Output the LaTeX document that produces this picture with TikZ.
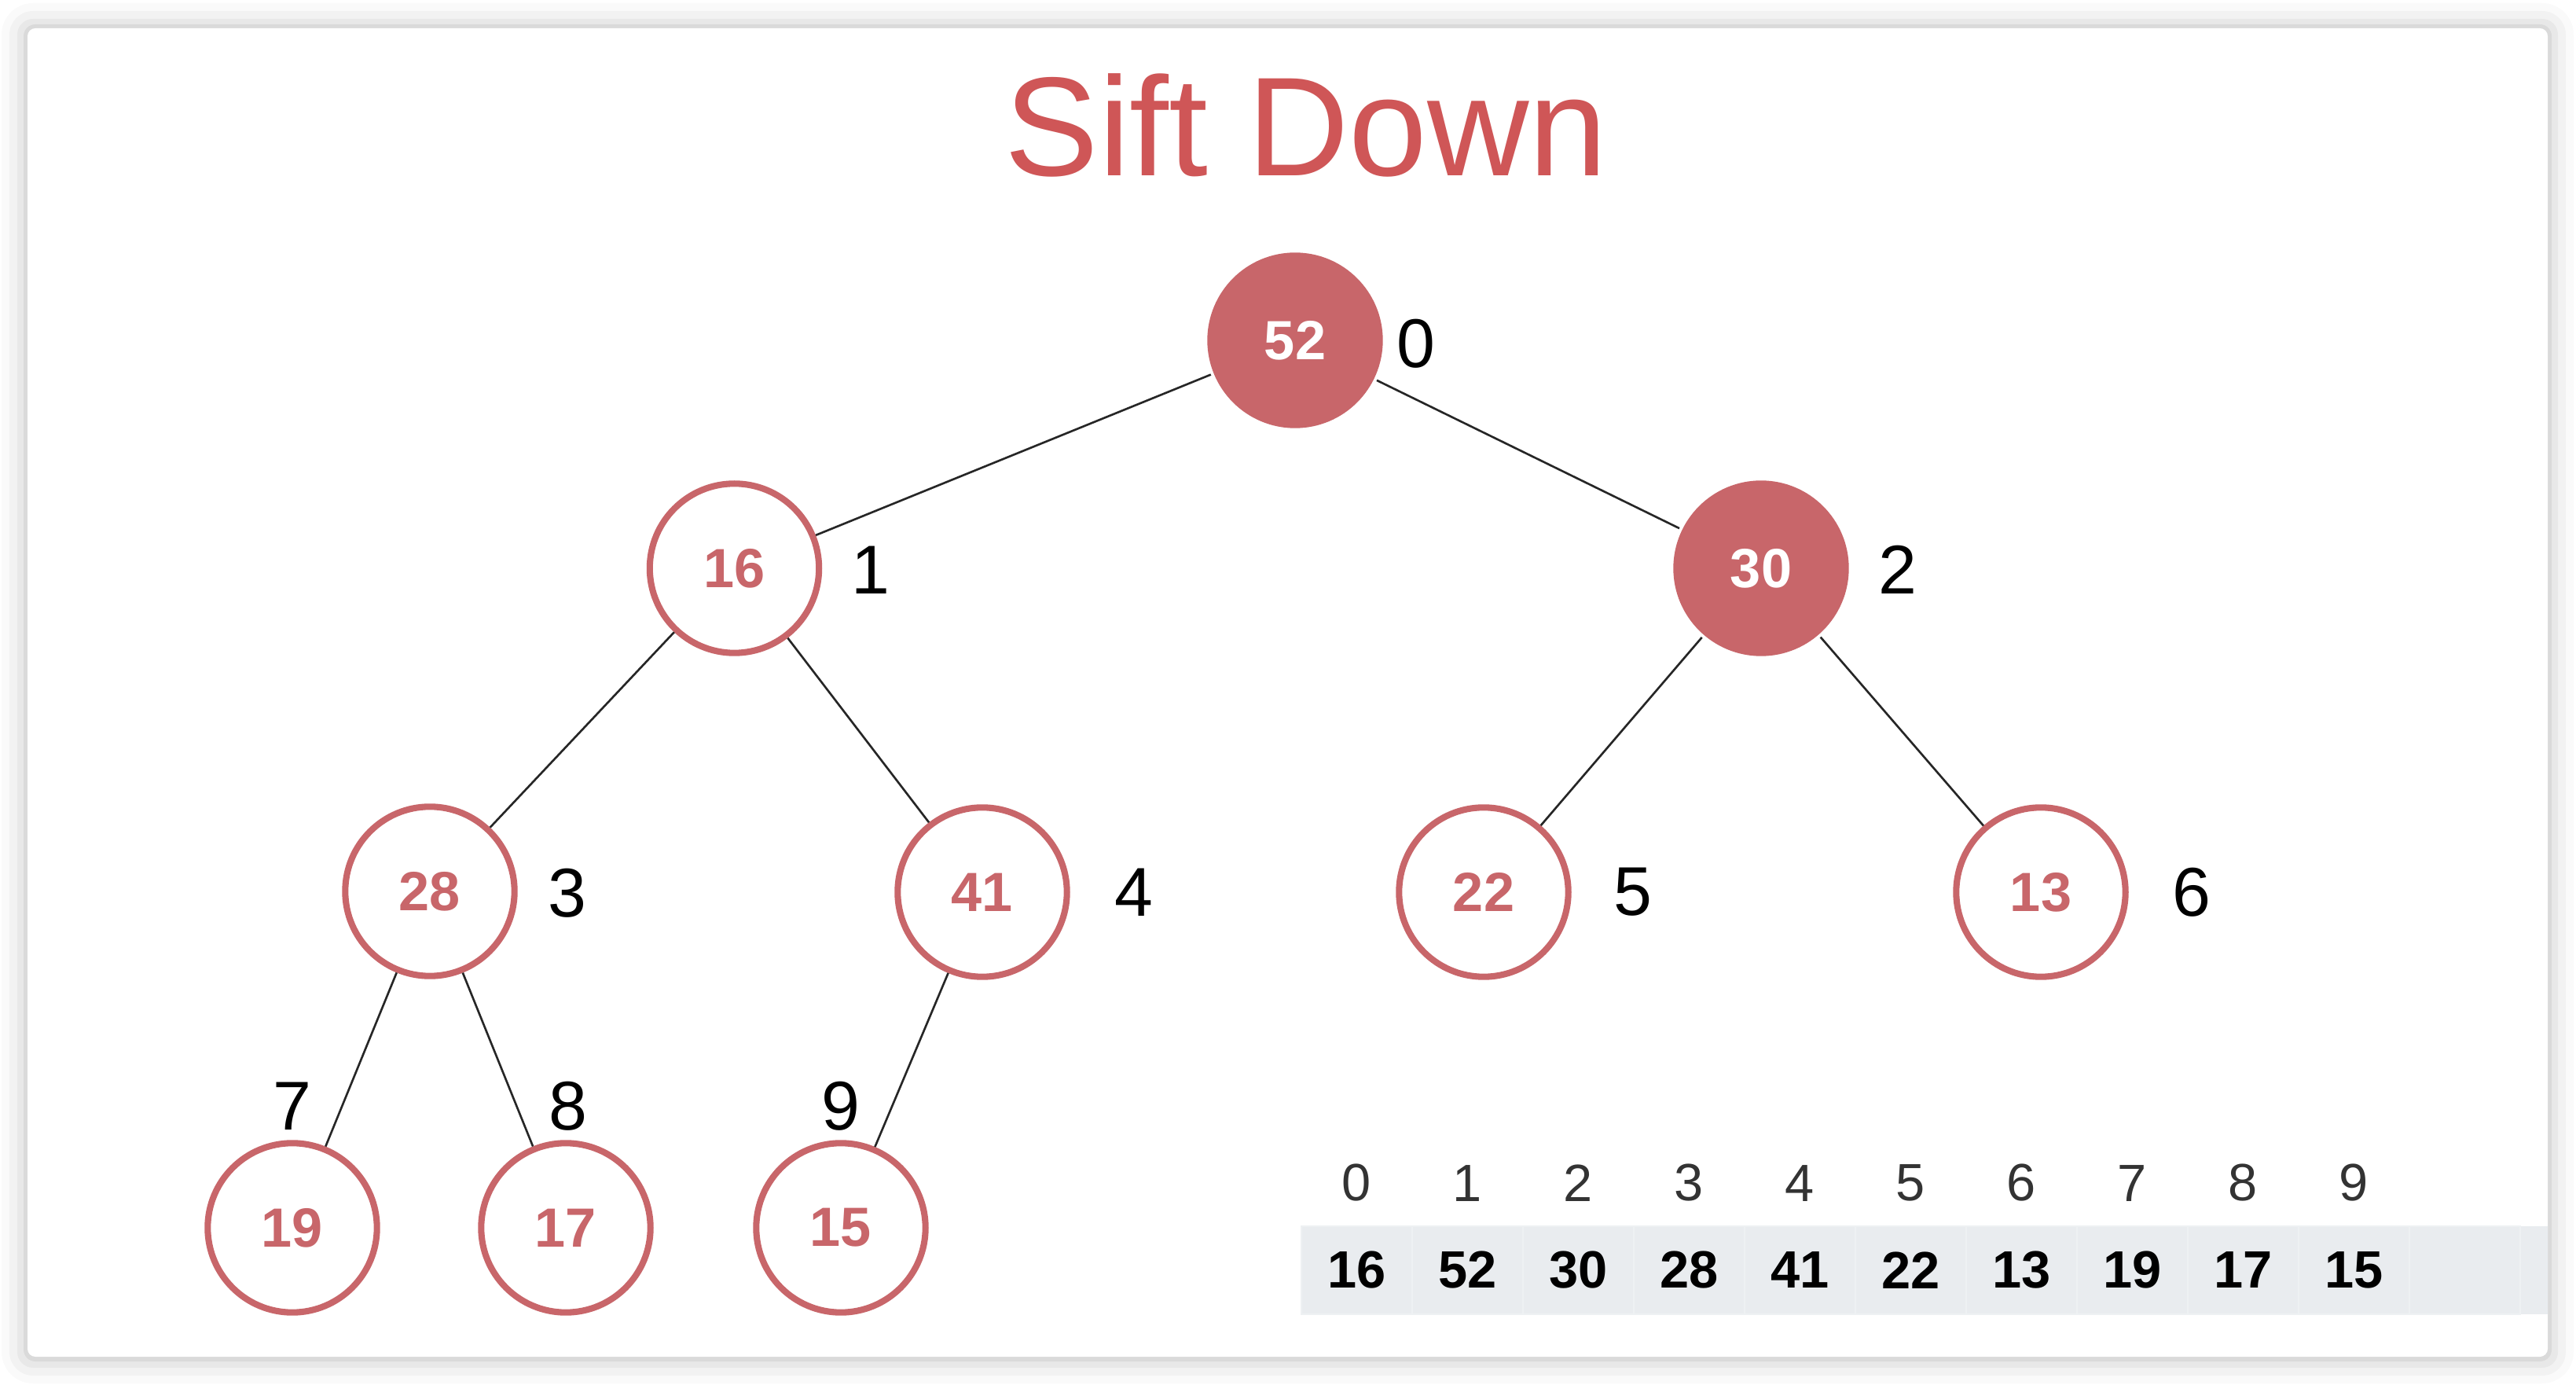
\documentclass[tikz,border=0pt]{standalone}
\usepackage{fontspec}
\setmainfont{Liberation Sans}
\usetikzlibrary{positioning}
\definecolor{heapred}{HTML}{C8666A}
\definecolor{titlered}{HTML}{CF5657}
\definecolor{cellgray}{HTML}{E9ECEF}
\begin{document}
\begin{tikzpicture}
        [heap/.style={circle, minimum size=2.154cm, inner sep=0pt, line width=2.3pt,
            draw=heapred, fill=white, text=heapred, font=\fontsize{20}{24}\selectfont\bfseries},
        hot/.style={heap, draw=none, minimum size=2.234cm, fill=heapred, text=white},
        idx/.style={inner sep=0pt, font=\fontsize{25}{30}\selectfont},
        line/.style={line width=0.75pt, black!85},
        cell/.style={minimum width=1.41cm, minimum height=1.12cm, inner sep=0pt, outer sep=0pt,
            fill=cellgray, draw=white!25!cellgray, line width=0.5pt, font=\fontsize{19}{23}\selectfont\bfseries},
        slot/.style={inner sep=0pt, text=black!80, font=\fontsize{19}{23}\selectfont}]
        \useasboundingbox (0,0) rectangle (32.78,-17.62);
        \fill[white] (0,0) rectangle (32.78,-17.62);
        % card with its shadow
        \fill[black, opacity=0.02, rounded corners=0.4cm] (0.02,-0.04) rectangle (32.75,-17.60);
        \fill[black, opacity=0.03, rounded corners=0.3cm] (0.12,-0.14) rectangle (32.65,-17.50);
        \fill[black, opacity=0.04, rounded corners=0.2cm] (0.22,-0.24) rectangle (32.55,-17.40);
        \fill[black, opacity=0.06, rounded corners=0.15cm] (0.30,-0.31) rectangle (32.47,-17.32);
        \fill[white, rounded corners=0.1cm] (0.35,-0.36) rectangle (32.42,-17.26);
        \node[font=\fontsize{51}{60}\selectfont, text=titlered] (title) at (16.62,-1.59) {Sift Down};
        % the heap
        \node[heap] (n19) at (3.72,-15.62) {19};
        \node[heap] (n17) at (7.20,-15.62) {17};
        \node[heap] (n15) at (10.70,-15.62) {15};
        \node[heap] (n28) at (5.47,-11.34) {28}
            edge[line] (n19)
            edge[line] (n17);
        \node[heap] (n41) at (12.50,-11.35) {41}
            edge[line] (n15);
        \node[heap] (n22) at (18.88,-11.35) {22};
        \node[heap] (n13) at (25.97,-11.35) {13};
        \node[heap] (n16) at (9.345,-7.23) {16}
            edge[line] (n28)
            edge[line] (n41);
        \node[hot] (n30) at (22.41,-7.23) {30}
            edge[line] (n22)
            edge[line] (n13);
        \node[hot] (n52) at (16.48,-4.33) {52}
            edge[line] (n16)
            edge[line] (n30);
        % indices
        \node[idx] (i0) at (18.02,-4.37) {0};
        \node[idx] (i1) at (11.08,-7.25) {1};
        \node[idx] (i2) at (24.15,-7.25) {2};
        \node[idx] (i3) at (7.22,-11.36) {3};
        \node[idx] (i4) at (14.43,-11.35) {4};
        \node[idx] (i5) at (20.78,-11.35) {5};
        \node[idx] (i6) at (27.89,-11.35) {6};
        \node[idx] (i7) at (3.72,-14.07) {7};
        \node[idx] (i8) at (7.23,-14.07) {8};
        \node[idx] (i9) at (10.70,-14.07) {9};
        % array
        \fill[cellgray] (16.56,-15.60) rectangle (32.42,-16.72);
        \node[cell] (c0) at (17.265,-16.16) {16};
        \node[cell, right=0pt of c0] (c1) {52};
        \node[cell, right=0pt of c1] (c2) {30};
        \node[cell, right=0pt of c2] (c3) {28};
        \node[cell, right=0pt of c3] (c4) {41};
        \node[cell, right=0pt of c4] (c5) {22};
        \node[cell, right=0pt of c5] (c6) {13};
        \node[cell, right=0pt of c6] (c7) {19};
        \node[cell, right=0pt of c7] (c8) {17};
        \node[cell, right=0pt of c8] (c9) {15};
        \node[cell, right=0pt of c9] (c10) {};
        \node[slot, above=0.31cm of c0] (p0) {0};
        \node[slot, above=0.31cm of c1] (p1) {1};
        \node[slot, above=0.31cm of c2] (p2) {2};
        \node[slot, above=0.31cm of c3] (p3) {3};
        \node[slot, above=0.31cm of c4] (p4) {4};
        \node[slot, above=0.31cm of c5] (p5) {5};
        \node[slot, above=0.31cm of c6] (p6) {6};
        \node[slot, above=0.31cm of c7] (p7) {7};
        \node[slot, above=0.31cm of c8] (p8) {8};
        \node[slot, above=0.31cm of c9] (p9) {9};
    \end{tikzpicture}
\end{document}
